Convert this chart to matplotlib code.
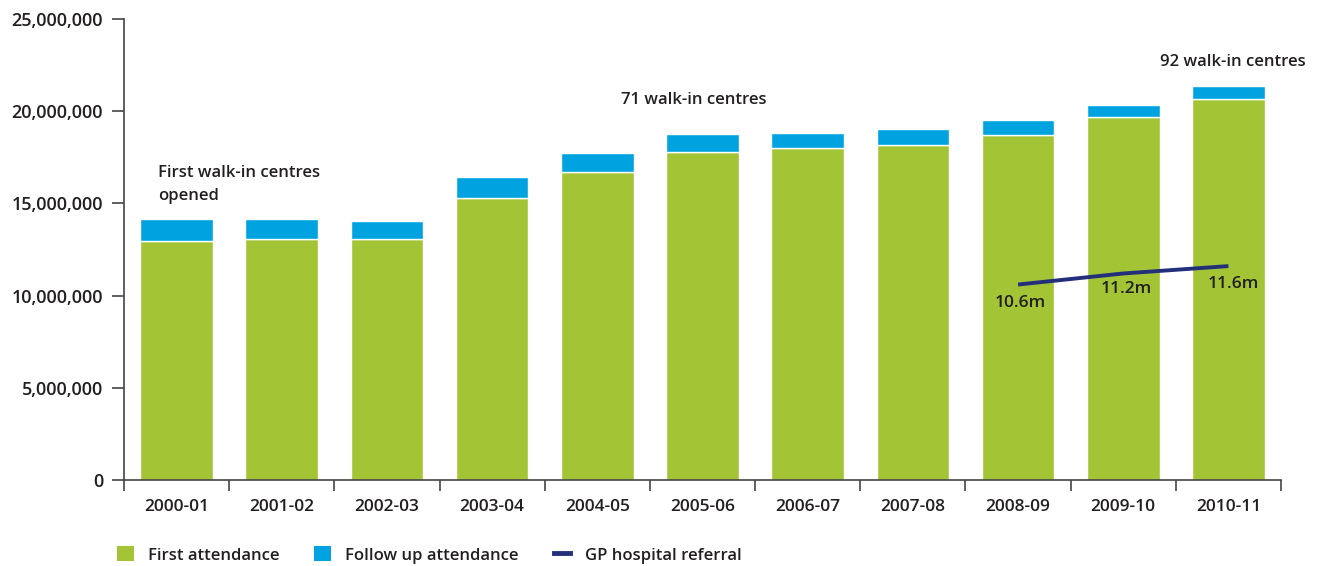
import matplotlib
matplotlib.use("Agg")
import matplotlib.pyplot as plt
from matplotlib.patches import Patch
from matplotlib.lines import Line2D
from matplotlib.ticker import FuncFormatter

years = ["2000-01", "2001-02", "2002-03", "2003-04", "2004-05", "2005-06",
         "2006-07", "2007-08", "2008-09", "2009-10", "2010-11"]
first_attendance = [12.95e6, 13.05e6, 13.05e6, 15.28e6, 16.70e6, 17.81e6,
                    18.01e6, 18.18e6, 18.72e6, 19.71e6, 20.67e6]
follow_up = [1.20e6, 1.10e6, 1.00e6, 1.16e6, 1.04e6, 0.96e6,
             0.83e6, 0.86e6, 0.81e6, 0.65e6, 0.67e6]
gp_years = ["2008-09", "2009-10", "2010-11"]
gp_referral = [10.6e6, 11.2e6, 11.6e6]
gp_labels = ["10.6m", "11.2m", "11.6m"]

GREEN = "#a3c535"
BLUE = "#00a3df"
NAVY = "#232f7a"
TEXT = "#231f20"

plt.rcParams["font.family"] = ["Open Sans", "DejaVu Sans"]

fig = plt.figure(figsize=(13.18, 5.66), dpi=100)
ax = fig.add_axes([124 / 1318, 1 - 480 / 566, (1281 - 124) / 1318, (480 - 19) / 566])

x = list(range(len(years)))
ax.bar(x, first_attendance, width=0.69, color=GREEN, edgecolor="white", linewidth=1.0, zorder=2)
ax.bar(x, follow_up, bottom=first_attendance, width=0.69, color=BLUE,
       edgecolor="white", linewidth=1.0, zorder=2)

gx = [years.index(y) for y in gp_years]
ax.plot(gx, gp_referral, color=NAVY, linewidth=2.8, zorder=3, solid_capstyle="butt")
label_offsets = [(0.02, -1.0e6), (0.03, -0.85e6), (0.05, -0.95e6)]
for xi, v, lab, (dx, dy) in zip(gx, gp_referral, gp_labels, label_offsets):
    ax.text(xi + dx, v + dy, lab, ha="center", va="center", fontsize=12.5, color=TEXT,
            fontweight="semibold", zorder=4)

ax.set_xlim(-0.5, len(years) - 0.5)
ax.set_ylim(0, 25e6)
ax.set_yticks([0, 5e6, 10e6, 15e6, 20e6, 25e6])
ax.yaxis.set_major_formatter(FuncFormatter(lambda v, p: f"{int(v):,}"))
ax.set_xticks(x)
ax.set_xticklabels(years)
ax.set_xticks([i - 0.5 for i in range(len(years) + 1)], minor=True)
ax.tick_params(axis="x", which="major", length=0, pad=14, labelsize=12.5, labelcolor=TEXT)
ax.tick_params(axis="x", which="minor", length=8, width=1.2, color="#444444", direction="out")
ax.tick_params(axis="y", length=9, width=1.2, color="#444444", labelsize=13,
               labelcolor=TEXT, pad=6)

for side in ["top", "right"]:
    ax.spines[side].set_visible(False)
for side in ["left", "bottom"]:
    ax.spines[side].set_color("#444444")
    ax.spines[side].set_linewidth(1.2)

for lab in ax.get_xticklabels() + ax.get_yticklabels():
    lab.set_fontweight("semibold")

ax.text(-0.18, 16.03e6, "First walk-in centres\nopened", ha="left", va="center",
        fontsize=12, color=TEXT, linespacing=1.55, fontweight="semibold")
ax.text(4.92, 20.6e6, "71 walk-in centres", ha="center", va="center",
        fontsize=12, color=TEXT, fontweight="semibold")
ax.text(10.04, 22.68e6, "92 walk-in centres", ha="center", va="center",
        fontsize=12, color=TEXT, fontweight="semibold", clip_on=False)

handles = [
    Patch(facecolor=GREEN, edgecolor="none", label="First attendance"),
    Patch(facecolor=BLUE, edgecolor="none", label="Follow up attendance"),
    Line2D([0], [0], color=NAVY, linewidth=3.5, label="GP hospital referral"),
]
leg = fig.legend(handles=handles, loc="center left", bbox_to_anchor=(117 / 1318, 1 - 555 / 566),
                 ncol=3, frameon=False, fontsize=12, handlelength=1.0, handleheight=1.0,
                 handletextpad=0.85, columnspacing=2.1, borderaxespad=0, borderpad=0)
for t in leg.get_texts():
    t.set_color(TEXT)
    t.set_fontweight("semibold")

fig.savefig("out.png", dpi=100)
